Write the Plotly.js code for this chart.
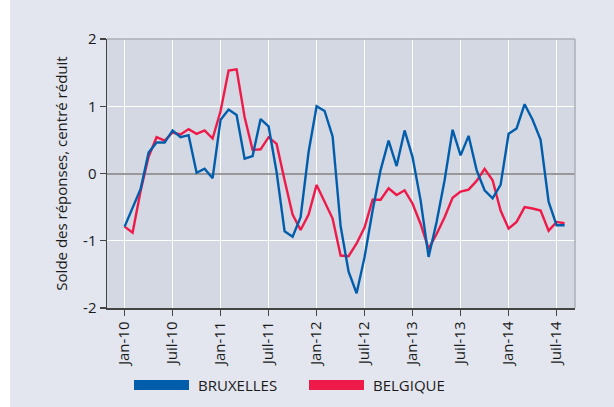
<!DOCTYPE html>
<html><head><meta charset="utf-8">
<script src="https://cdn.plot.ly/plotly-3.0.1.min.js"></script>
<style>html,body{margin:0;padding:0;background:#fff;}#chart{position:absolute;left:10px;top:0;width:604px;height:407px;}</style>
</head><body><div id="chart"></div>
<script>
// month index 0 = Jan-10 ... 55 = Aug-14
const tickPositions = [0, 6, 12, 18, 24, 30, 36, 42, 48, 54];
const tickLabels = ["Jan-10","Juil-10","Jan-11","Juil-11","Jan-12","Juil-12","Jan-13","Juil-13","Jan-14","Juil-14"];
const nameBruxelles = "BRUXELLES";
const nameBelgique = "BELGIQUE";
const bruxelles = [-0.79,-0.52,-0.23,0.31,0.46,0.46,0.64,0.54,0.57,0.01,0.07,-0.07,
  0.80,0.95,0.87,0.22,0.26,0.81,0.70,0.02,-0.86,-0.94,-0.65,0.32,
  1.00,0.93,0.55,-0.78,-1.46,-1.78,-1.24,-0.55,0.05,0.49,0.11,0.64,
  0.24,-0.40,-1.24,-0.72,-0.10,0.65,0.27,0.56,0.05,-0.25,-0.37,-0.17,
  0.59,0.67,1.03,0.80,0.50,-0.42,-0.77,-0.77];
const belgique = [-0.79,-0.88,-0.26,0.25,0.54,0.49,0.61,0.58,0.66,0.59,0.64,0.52,
  0.93,1.53,1.55,0.84,0.35,0.36,0.54,0.44,-0.10,-0.61,-0.84,-0.61,
  -0.17,-0.42,-0.67,-1.22,-1.23,-1.04,-0.80,-0.39,-0.39,-0.22,-0.32,-0.25,
  -0.45,-0.75,-1.12,-0.90,-0.65,-0.36,-0.27,-0.24,-0.11,0.07,-0.10,-0.55,
  -0.82,-0.72,-0.50,-0.52,-0.55,-0.85,-0.72,-0.74];
const months = bruxelles.map((_, i) => i);

const blue = "#005DAB";
const red = "#EE1A4A";
const font = "Open Sans, Noto Sans, sans-serif";
const txt = "#1a1a1a";

const traces = [
  {x: months, y: belgique, type: "scatter", mode: "lines", name: nameBelgique,
   line: {color: red, width: 2.4}, showlegend: false},
  {x: months, y: bruxelles, type: "scatter", mode: "lines", name: nameBruxelles,
   line: {color: blue, width: 2.4}, showlegend: false}
];

const legY = -(385 - 308) / 269;
const layout = {
  width: 604, height: 407,
  margin: {l: 97, r: 39, t: 39, b: 99},
  paper_bgcolor: "#E3E6EE",
  plot_bgcolor: "#D3D8E2",
  font: {family: font, size: 15, color: txt},
  xaxis: {
    range: [-2.2, 56.3], tickvals: tickPositions, ticktext: tickLabels,
    tickangle: -90, ticks: "outside", ticklen: 6, tickcolor: "#444", tickwidth: 1.2,
    showgrid: true, gridcolor: "#ffffff", gridwidth: 1.2,
    showline: true, linecolor: "#444", linewidth: 1.5, zeroline: false,
    tickfont: {size: 15, family: font, color: txt}
  },
  yaxis: {
    range: [-2, 2], tickvals: [-2,-1,0,1,2], ticktext: ["-2","-1","0","1","2"],
    ticks: "outside", ticklen: 6, tickcolor: "#444", tickwidth: 1.2,
    showgrid: true, gridcolor: "#ffffff", gridwidth: 1.2,
    showline: true, linecolor: "#444", linewidth: 1.5,
    zeroline: true, zerolinecolor: "#999999", zerolinewidth: 2,
    tickfont: {size: 15, family: font, color: txt},
    title: {text: "Solde des réponses, centré réduit", font: {size: 15, family: font, color: txt}, standoff: 12}
  },
  shapes: [
    {type: "line", xref: "paper", yref: "paper", x0: 0, x1: 1, y0: 1, y1: 1, line: {color: "#ACAFB6", width: 1.5}},
    {type: "line", xref: "paper", yref: "paper", x0: 1, x1: 1, y0: 0, y1: 1, line: {color: "#ACAFB6", width: 1.5}},
    {type: "rect", xref: "paper", yref: "paper", x0: (124 - 97) / 468, x1: (179 - 97) / 468,
     y0: legY + 5 / 269, y1: legY - 5 / 269, fillcolor: blue, line: {width: 0}},
    {type: "rect", xref: "paper", yref: "paper", x0: (299 - 97) / 468, x1: (354 - 97) / 468,
     y0: legY + 5 / 269, y1: legY - 5 / 269, fillcolor: red, line: {width: 0}}
  ],
  annotations: [
    {xref: "paper", yref: "paper", x: (186 - 97) / 468, y: legY, xanchor: "left", yanchor: "middle",
     text: nameBruxelles, showarrow: false, font: {size: 15, family: font, color: txt}},
    {xref: "paper", yref: "paper", x: (361 - 97) / 468, y: legY, xanchor: "left", yanchor: "middle",
     text: nameBelgique, showarrow: false, font: {size: 15, family: font, color: txt}}
  ]
};

Plotly.newPlot("chart", traces, layout, {displayModeBar: false, staticPlot: true});
</script></body></html>
